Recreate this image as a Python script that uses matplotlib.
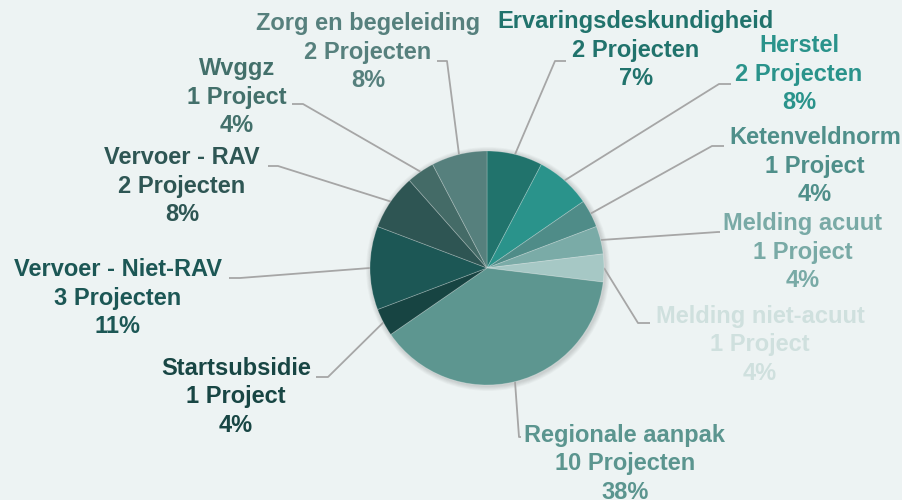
import matplotlib
matplotlib.use("Agg")
import matplotlib.pyplot as plt
import numpy as np

# ---------------- data ----------------
categories = ["Ervaringsdeskundigheid", "Herstel", "Ketenveldnorm", "Melding acuut",
              "Melding niet-acuut", "Regionale aanpak", "Startsubsidie",
              "Vervoer - Niet-RAV", "Vervoer - RAV", "Wvggz", "Zorg en begeleiding"]
projects = [2, 2, 1, 1, 1, 10, 1, 3, 2, 1, 2]
percent_labels = ["7%", "8%", "4%", "4%", "4%", "38%", "4%", "11%", "8%", "4%", "8%"]

# ---------------- style ----------------
slice_colors = ["#21736c", "#2a938b", "#4f8c88", "#7aaba7", "#a6c8c5", "#5d9690",
                "#174442", "#1c5755", "#2e5553", "#446b67", "#56807d"]
text_colors = ["#21736c", "#2a938b", "#4f8f8a", "#79aaa6", "#cfe0de", "#5b958f",
               "#184644", "#1c5755", "#2e5654", "#43706b", "#56807d"]
bg = "#edf3f3"
W, H = 903, 500

# label layout in image pixel coords: (text center x, center y, elbow x, elbow y, end x)
layout = [
    (636, 50, 555, 61, 566),
    (799, 74, 719, 84, 731),
    (815, 166, 712, 146, 724),
    (803, 252, 718, 232, 720),
    (760, 345, 638, 323, 650),
    (625, 464, 519, 437, 521),
    (236, 397, 328, 377, 316),
    (118, 298, 240, 278, 229),
    (182, 186, 278, 166, 268),
    (237, 97, 303, 104, 292),
    (368, 52, 447, 61, 437),
]

pie_cx, pie_cy, pie_r = 487, 268, 117

fig = plt.figure(figsize=(W / 100, H / 100), dpi=100, facecolor=bg)
ax = fig.add_axes([0, 0, 1, 1])
ax.set_facecolor(bg)

def Y(y):
    return H - y

# soft shadow
for k in range(6):
    circ = plt.Circle((pie_cx + 1, Y(pie_cy) - 1), pie_r + 1 + k * 0.8,
                      color="#000000", alpha=0.025, lw=0, zorder=0)
    ax.add_patch(circ)

wedges, _ = ax.pie(projects, colors=slice_colors, startangle=90, counterclock=False,
                   center=(pie_cx, Y(pie_cy)), radius=pie_r,
                   wedgeprops=dict(linewidth=0.6, edgecolor=(1, 1, 1, 0.25)))
for w in wedges:
    w.set_zorder(2)

for i, w in enumerate(wedges):
    mid = np.deg2rad((w.theta1 + w.theta2) / 2)
    ex = pie_cx + pie_r * np.cos(mid)
    ey = Y(pie_cy) + pie_r * np.sin(mid)
    tx, ty, bx, by, endx = layout[i]
    ax.plot([ex, bx, endx], [ey, Y(by), Y(by)], color="#a6a6a6", lw=1.3, zorder=1,
            solid_capstyle="butt")
    word = "Project" if projects[i] == 1 else "Projecten"
    label = f"{categories[i]}\n{projects[i]} {word}\n{percent_labels[i]}"
    ax.text(tx, Y(ty), label, ha="center", va="center", multialignment="center",
            fontsize=17, fontweight="bold", family=["Liberation Sans", "DejaVu Sans"],
            color=text_colors[i], linespacing=1.3, zorder=3)

ax.set_xlim(0, W)
ax.set_ylim(0, H)
ax.set_aspect("equal")
ax.axis("off")
fig.savefig("out.png", dpi=100, facecolor=bg)
